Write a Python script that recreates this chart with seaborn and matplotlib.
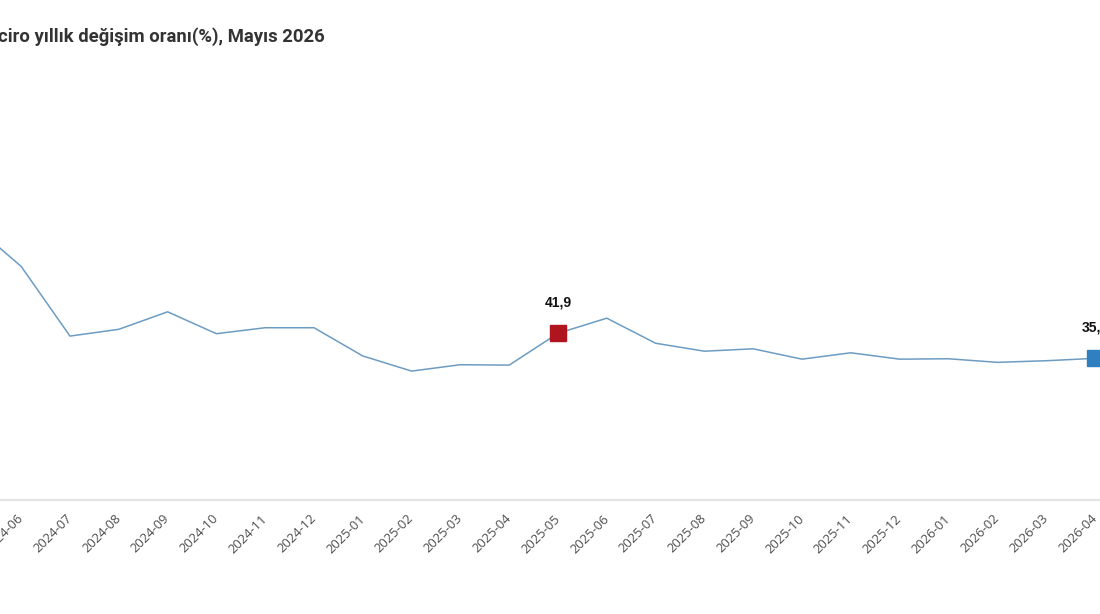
import numpy as np
import pandas as pd
import matplotlib
matplotlib.use('Agg')
import matplotlib.pyplot as plt
import seaborn as sns

# values (%)
months = ['2024-05', '2024-06', '2024-07', '2024-08', '2024-09', '2024-10', '2024-11',
          '2024-12', '2025-01', '2025-02', '2025-03', '2025-04', '2025-05', '2025-06',
          '2025-07', '2025-08', '2025-09', '2025-10', '2025-11', '2025-12', '2026-01',
          '2026-02', '2026-03', '2026-04']
values = [69.3, 58.7, 41.2, 42.9, 47.3, 41.8, 43.3, 43.3, 36.2, 32.4, 34.0, 33.9,
          41.9, 45.7, 39.4, 37.4, 38.0, 35.4, 37.0, 35.4, 35.5, 34.6, 35.0, 35.6]
highlight_months = ['2025-05', '2026-04']
highlight_labels = ['41,9', '35,6']
highlight_colors = ['#b0141e', '#2f7fc1']

title = 'ciro yıllık değişim oranı(%), Mayıs 2026'

df = pd.DataFrame({'month': months, 'value': values})
df['pos'] = np.arange(len(df))

sns.set_style('white')
plt.rcParams['font.family'] = ['Open Sans', 'DejaVu Sans']

fig = plt.figure(figsize=(11, 6.14), dpi=100)
ax = fig.add_axes([0.0, 0.1857, 1.0, 0.6479])

sns.lineplot(data=df, x='pos', y='value', ax=ax, color='#6d9cc2', linewidth=1.1)

# highlighted points
for m, lab, col in zip(highlight_months, highlight_labels, highlight_colors):
    row = df[df['month'] == m].iloc[0]
    ax.plot(row['pos'], row['value'], marker='s', markersize=11.5, color=col,
            linestyle='none', zorder=5)
    ax.annotate(lab, (row['pos'], row['value']), xytext=(0, 17),
                textcoords='offset points', ha='center', va='bottom',
                fontsize=10, fontweight='bold', color='#111111',
                family=['Liberation Sans', 'DejaVu Sans'], annotation_clip=False)

ax.set_xlim(0.5656, 23.107)
ax.set_ylim(0, 100)

ax.set_xticks(df['pos'][1:])
ax.set_xticklabels(df['month'][1:], rotation=45, ha='right', va='center',
                   rotation_mode='anchor', fontsize=9.4, color='#4d4d4d')
ax.tick_params(axis='x', length=0, pad=12)
ax.set_yticks([])
ax.set_xlabel('')
ax.set_ylabel('')

for side in ['top', 'left', 'right']:
    ax.spines[side].set_visible(False)
ax.spines['bottom'].set_color('#e3e3e3')
ax.spines['bottom'].set_linewidth(1.5)

fig.text(-0.002, 0.94, title, ha='left', va='center', fontsize=13.3,
         fontweight='bold', color='#333333', family=['Roboto', 'DejaVu Sans'])

fig.savefig('out.png', dpi=100)
